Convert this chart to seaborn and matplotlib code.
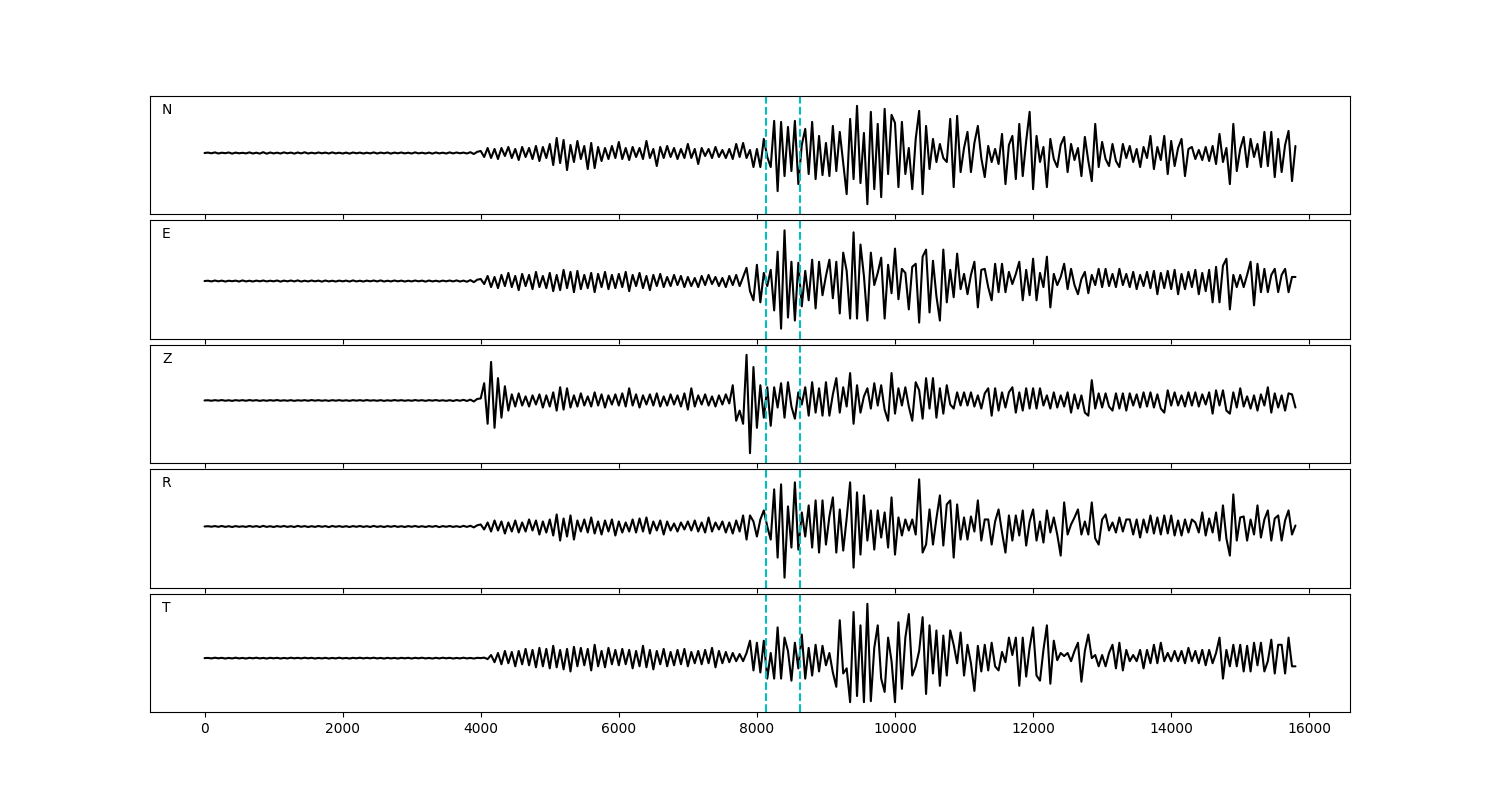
import numpy as np
import matplotlib
matplotlib.use('Agg')
import matplotlib.pyplot as plt
import seaborn as sns

# stored points are every DT samples (pixel-ish units)
DT = 50
PICKS = [8130, 8620]
COMPONENTS = ['N', 'E', 'Z', 'R', 'T']

n_trace = [
    0, 0.4, -0.3, 0.6, -0.5, 0.3, -0.2, 0.5, -0.6, 0.4, -0.3, 0.2, -0.4, 0.6, -0.5, 0.3, -0.6, 0.8, -0.7, 0.5,
    -0.4, 0.3, -0.5, 0.6, -0.3, 0.4, -0.6, 0.5, -0.4, 0.7, -0.5, 0.3, -0.4, 0.5, -0.3, 0.4, -0.5, 0.6, -0.4, 0.3,
    -0.5, 0.4, -0.6, 0.5, -0.3, 0.4, -0.5, 0.3, -0.4, 0.6, -0.5, 0.4, -0.3, 0.5, -0.6, 0.4, -0.3, 0.5, -0.4, 0.3,
    -0.5, 0.6, -0.4, 0.3, -0.5, 0.4, -0.6, 0.5, -0.4, 0.3, -0.5, 0.6, -0.4, 0.5, -0.3, 0.4, -0.5, 0.8, -1.0, 1.2,
    2, -4, 5, -5, 4, -6, 5, -3, 6, -5, 4, -7, 6, -4, 5, -6, 7, -8, 6, -5,
    9, -12, 15, -10, 13, -17, 8, -9, 12, -6, 7, -16, 10, -15, 6, -8, 5, -6, 7, -5,
    11, -6, 5, -7, 6, -4, 5, -6, 12, -5, 4, -13, 6, -5, 7, -4, 5, -6, 4, -5,
    9, -5, 4, -11, 5, -3, 4, -5, 6, -4, 3, -5, 4, -6, 9, -4, 10, -5, 3, -14,
    4, -14, 14, -4, -14, 32, -38, 31, -23, 26, -18, 32, -31, 8, 24, -21, 31, -26, 17, -22,
    10, -23, 27, -18, 21, -10, -41, 34, -26, 47, -30, 20, -51, 41, -36, 29, -44, 44, -21, 38,
    30, -34, 31, -21, 5, -36, 14, 42, -41, 27, -16, 14, -9, 9, -5, -9, 34, -34, 37, -19,
    5, 21, -19, 10, 27, -5, -24, 7, -9, 4, -11, 19, -31, 8, 17, -26, 29, -23, 12, 41,
    -36, 17, -9, 6, -34, 14, -6, -14, 8, 16, -19, 9, -7, 5, -23, 16, -8, -28, 29, -14,
    11, -6, -13, 9, -8, -14, 9, -5, 7, -9, 4, -14, 6, -5, 17, -16, 6, -7, 17, -21,
    12, -13, 5, 14, -23, 4, 6, -6, 3, -7, 6, -8, 7, -11, 19, -9, 5, -31, 29, -18,
    4, 16, -14, 14, -4, 9, -14, 21, -13, 21, -24, 14, -19, 8, 22, -28, 7,
]

e_trace = [
    0, 0.3, -0.4, 0.5, -0.3, 0.4, -0.5, 0.3, -0.2, 0.4, -0.5, 0.6, -0.4, 0.3, -0.5, 0.4, -0.3, 0.5, -0.4, 0.3,
    -0.3, 0.5, -0.6, 0.4, -0.3, 0.5, -0.4, 0.6, -0.5, 0.3, -0.4, 0.5, -0.3, 0.4, -0.6, 0.5, -0.4, 0.3, -0.5, 0.4,
    -0.3, 0.4, -0.5, 0.6, -0.4, 0.3, -0.5, 0.4, -0.3, 0.5, -0.4, 0.6, -0.5, 0.3, -0.4, 0.5, -0.3, 0.4, -0.5, 0.3,
    -0.4, 0.5, -0.3, 0.4, -0.6, 0.5, -0.4, 0.3, -0.5, 0.4, -0.3, 0.5, -0.4, 0.6, -0.5, 0.4, -0.7, 0.9, -1.1, 1.3,
    2, -3, 5, -6, 4, -7, 6, -5, 8, -6, 5, -9, 7, -5, 6, -8, 9, -6, 5, -7,
    8, -10, 6, -9, 11, -7, 9, -11, 10, -8, 6, -7, 8, -11, 7, -6, 9, -8, 6, -7,
    7, -6, 9, -10, 6, -5, 8, -7, 5, -9, 6, -5, 7, -6, 4, -5, 6, -4, 5, -6,
    4, -5, 3, -6, 5, -4, 6, -3, 4, -5, 3, -6, 5, -4, 6, -5, 4, 13, -10, -19,
    16, -21, 8, -5, 11, -29, 29, -47, 50, -36, 19, -39, 18, -25, 10, -19, 21, -27, 19, -14,
    5, 21, -17, 19, -32, 28, 10, -37, 48, -37, 36, 5, -39, 28, -4, 8, 23, -37, 16, -12,
    32, -18, 12, 8, -28, 14, 17, -41, 24, 31, -31, 20, -15, -39, 31, -21, 11, -16, 27, -8,
    7, -13, 6, 19, -26, 11, 12, -6, -19, 17, -11, 17, -11, 9, -3, 7, 19, -19, 11, -14,
    22, -19, 8, -6, 24, -26, 7, -4, 4, 17, -8, 12, -4, -13, 2, 9, -12, 6, -4, 12,
    -6, 12, -5, 7, -6, 12, -4, 7, -6, 9, -8, 6, -5, 9, -7, 10, -13, 8, -7, 10,
    -8, 11, -13, 7, -8, 9, -6, 11, -13, 8, -10, 11, -21, 14, -21, 15, 22, -28, 6, -6,
    6, -6, 6, 19, -24, 17, -11, 12, -11, 6, 12, -11, 6, 12, -11, 4, 4,
]

z_trace = [
    0, 0.2, -0.3, 0.3, -0.2, 0.4, -0.3, 0.2, -0.4, 0.3, -0.2, 0.3, -0.3, 0.4, -0.2, 0.3, -0.4, 0.2, -0.3, 0.3,
    -0.2, 0.4, -0.3, 0.2, -0.3, 0.3, -0.4, 0.2, -0.2, 0.3, -0.3, 0.4, -0.2, 0.3, -0.3, 0.2, -0.4, 0.3, -0.2, 0.3,
    -0.3, 0.2, -0.4, 0.3, -0.2, 0.3, -0.3, 0.4, -0.2, 0.2, -0.3, 0.3, -0.4, 0.2, -0.3, 0.4, -0.2, 0.3, -0.3, 0.2,
    -0.3, 0.4, -0.2, 0.3, -0.4, 0.3, -0.2, 0.4, -0.3, 0.2, -0.4, 0.3, -0.5, 0.4, -0.3, 0.6, -0.5, 0.8, -1.0, 1.5,
    2, 17, -23, 38, -27, 22, -17, 14, -10, 6, -6, 7, -5, 4, -6, 5, -4, 6, -7, 5,
    -6, 8, -10, 13, -9, 12, -7, 5, -6, 7, -5, 4, -6, 8, -5, 6, -7, 5, -4, 6,
    -5, 7, -6, 12, -5, 6, -7, 5, -4, 6, -5, 7, -6, 4, -5, 6, -4, 5, -6, 7,
    -9, 12, -6, 5, -4, 6, -5, 4, -6, 5, -4, 6, -3, 15, -20, -10, -23, 45, -52, 33,
    -27, 15, -17, 13, -25, 13, -7, 17, -17, 18, -6, -18, 8, -4, 13, -15, 18, -12, 12, -15,
    18, -15, 6, 22, -12, 13, -6, 27, -23, 15, -12, 4, 12, -8, 17, -5, 15, -9, -20, 27,
    -13, 12, -5, 13, -6, -20, 18, 10, -18, 22, -8, 22, -17, 12, -13, 15, -4, -8, 8, -5,
    8, -5, 8, -6, 5, -8, 7, 12, -15, 12, -10, 8, -7, 8, 13, -12, 8, -10, 12, -8,
    12, -8, 12, -5, 5, -8, 8, -7, 5, -6, 8, -12, 6, -8, 5, -12, -15, 20, -8, 7,
    -7, 7, -6, -10, 7, -8, 7, -10, 7, -5, 6, -7, 8, -6, 8, -7, 6, -8, -12, 10,
    -5, 8, -5, 5, -6, 8, -5, 8, -6, 6, -4, 8, -13, 10, -5, 10, -10, -13, 8, -7,
    12, -6, 4, -8, 5, -10, 6, -5, 13, -12, 7, -7, 5, -10, 7, 6, -7,
]

r_trace = [
    0, 0.3, -0.2, 0.4, -0.3, 0.5, -0.4, 0.3, -0.5, 0.4, -0.3, 0.2, -0.4, 0.5, -0.3, 0.4, -0.5, 0.6, -0.4, 0.3,
    -0.5, 0.4, -0.3, 0.5, -0.4, 0.3, -0.5, 0.6, -0.3, 0.4, -0.5, 0.3, -0.4, 0.5, -0.3, 0.4, -0.6, 0.5, -0.3, 0.4,
    -0.4, 0.3, -0.5, 0.4, -0.3, 0.5, -0.4, 0.3, -0.5, 0.6, -0.4, 0.3, -0.5, 0.4, -0.3, 0.5, -0.4, 0.3, -0.5, 0.4,
    -0.3, 0.5, -0.4, 0.3, -0.5, 0.4, -0.3, 0.5, -0.6, 0.4, -0.3, 0.5, -0.4, 0.3, -0.5, 0.6, -0.4, 0.7, -0.9, 1.2,
    2, -3, 4, -5, 6, -4, 5, -7, 4, -5, 6, -6, 4, -5, 7, -4, 6, -8, 5, -6,
    7, -9, 12, -14, 8, -10, 11, -13, 6, -5, 7, -6, 9, -7, 5, -8, 6, -5, 7, -9,
    5, -6, 4, -5, 7, -6, 8, -5, 9, -7, 5, -4, 6, -8, 5, -4, 3, -5, 4, -3,
    5, -4, 6, -5, 4, -6, 9, -5, 4, -3, 5, -6, 4, -7, 6, -5, 11, -13, 11, 5,
    -10, 7, 16, 0, -13, 37, -31, 42, -51, 20, -21, 44, -23, 14, -10, 21, -21, 26, -26, 26,
    -18, 10, 29, -26, 17, -24, 8, 44, -41, 34, -28, 31, -14, 16, -23, 16, -11, 14, -21, 29,
    -28, 9, -9, 7, -4, 7, -8, 47, -26, -18, 17, -18, 8, 31, -19, 22, 26, -31, 22, -13,
    9, -13, 10, -5, 26, -14, 7, 7, -18, 5, 17, -6, -26, 11, -14, 11, -9, 16, -19, 5,
    17, -14, 5, -16, 16, -6, 9, -8, -29, 24, -8, 2, 9, 17, -8, 5, -8, 24, -12, -18,
    7, 12, -4, 4, -6, 9, -5, 7, 7, -8, 7, -11, 7, -6, 11, -7, 9, -8, 11, -7,
    11, -9, 6, -9, 7, -6, 7, 4, -6, 14, -9, 8, -6, 14, -14, 21, -12, -29, 32, -14,
    9, 10, -14, 7, -8, 21, -11, 7, 16, -14, 8, 11, -14, 6, 16, -8, 1,
]

t_trace = [
    0, 0.2, -0.3, 0.4, -0.2, 0.3, -0.4, 0.2, -0.3, 0.4, -0.3, 0.2, -0.4, 0.3, -0.2, 0.4, -0.3, 0.2, -0.4, 0.3,
    -0.2, 0.3, -0.4, 0.2, -0.3, 0.4, -0.2, 0.3, -0.3, 0.4, -0.2, 0.3, -0.4, 0.2, -0.3, 0.3, -0.4, 0.2, -0.3, 0.4,
    -0.3, 0.2, -0.4, 0.3, -0.2, 0.4, -0.3, 0.3, -0.2, 0.4, -0.3, 0.2, -0.4, 0.3, -0.3, 0.2, -0.4, 0.3, -0.2, 0.3,
    -0.4, 0.3, -0.2, 0.4, -0.3, 0.2, -0.4, 0.3, -0.3, 0.4, -0.2, 0.3, -0.4, 0.2, -0.3, 0.4, -0.3, 0.2, -0.4, 0.3,
    0, 0.5, -1, 3, -4, 5, -6, 7, -5, 6, -8, 7, -6, 9, -7, 8, -9, 10, -8, 9,
    -10, 12, -9, 8, -11, 9, -13, 11, -8, 10, -7, 9, -12, 13, -8, 7, -9, 10, -6, 8,
    -7, 9, -6, 8, -10, 7, -8, 12, -9, 8, -11, 7, -6, 9, -8, 6, -7, 8, -6, 9,
    -8, 6, -5, 7, -6, 8, -5, 10, -9, 7, -5, 6, -4, 5, -3, 4, -3, 5, 17, -12,
    15, -14, 17, -20, 5, -20, 30, -20, 20, 7, -22, 15, -10, 23, -20, 10, -17, 13, -13, 12,
    -7, 5, -14, -28, 37, -15, -10, -43, 45, -37, 32, -43, 53, -42, 10, 32, -20, -33, 20, -3,
    -43, 35, -30, 20, 43, -17, -8, 7, 40, -35, 32, -15, 27, -27, 22, -17, 27, 13, -5, 25,
    -17, 13, -5, -32, 12, -13, 13, -12, 15, -8, -12, 6, -4, 20, 3, 20, -27, 20, -18, 10,
    30, -17, -22, 8, 32, -25, 17, -2, 5, 2, 5, -3, 7, 15, -23, 7, 23, 0, 3, -8,
    3, -8, 5, 13, -10, 15, -12, 8, -3, 3, -3, 8, -10, 8, -5, 13, -5, 15, -3, 5,
    -3, 7, -3, 7, -5, 10, -3, 7, -5, 8, -7, 8, -5, 5, 20, -20, 8, -8, 13, -8,
    13, -13, 12, -13, 15, -7, 15, -13, -3, 18, -15, 13, 13, -15, 20, -8, -8,
]

traces = [n_trace, e_trace, z_trace, r_trace, t_trace]

sns.set_style('ticks', {'axes.edgecolor': 'black', 'xtick.color': 'black',
                        'ytick.color': 'black', 'text.color': 'black'})
plt.rcParams['font.family'] = ['DejaVu Sans']

fig, axes = plt.subplots(5, 1, figsize=(15, 8), sharex=True)
fig.subplots_adjust(left=0.1, right=0.9, top=0.88, bottom=0.11, hspace=0.055)

for ax, name, trace in zip(axes, COMPONENTS, traces):
    t = np.arange(len(trace)) * DT
    sns.lineplot(x=t, y=trace, ax=ax, color='k', linewidth=1.5)
    for p in PICKS:
        ax.axvline(p, color='c', linestyle='--', linewidth=1.5)
    ax.margins(y=0.1)
    ax.set_yticks([])
    ax.set_ylabel('')
    ax.text(0.01, 0.85, name, transform=ax.transAxes, fontsize=10)

fig.savefig('out.png', dpi=100)
